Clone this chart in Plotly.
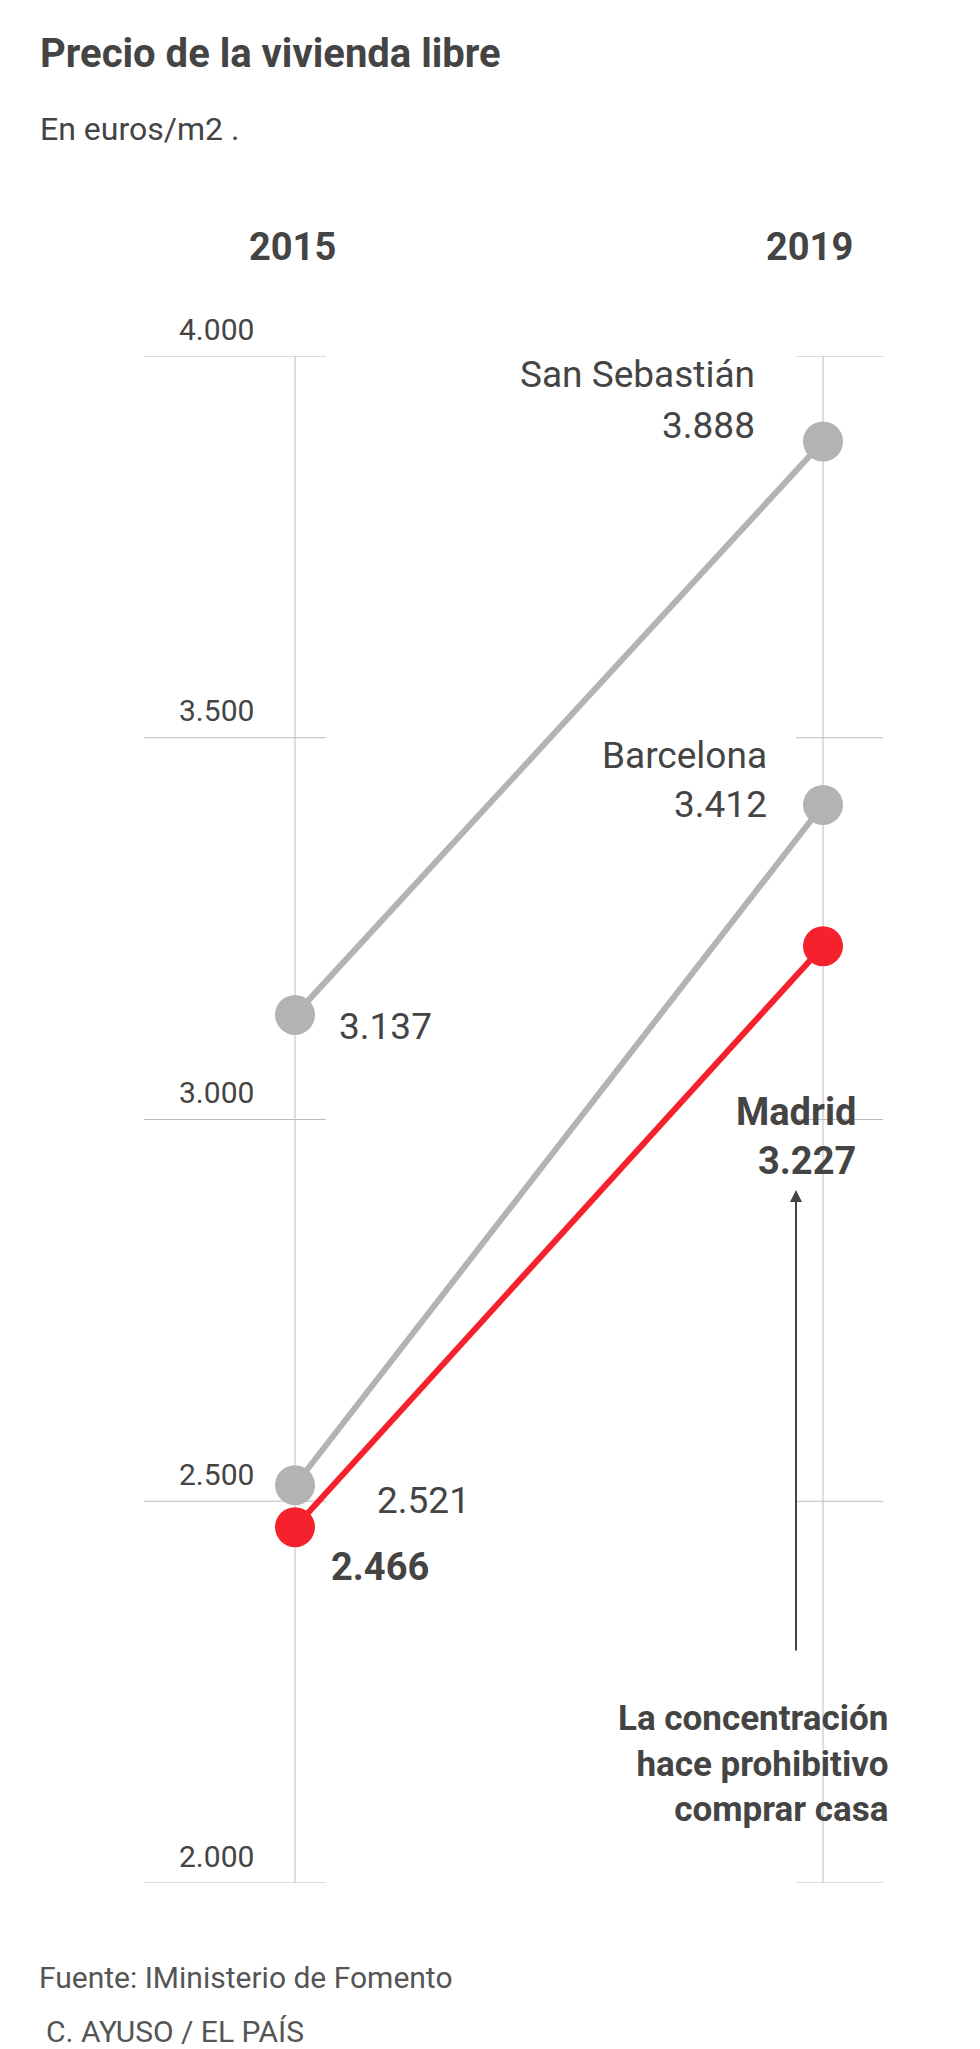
import plotly.graph_objects as go

years = ["2015", "2019"]
cities = ["San Sebastián", "Barcelona", "Madrid"]
val_2015 = [3137, 2521, 2466]
val_2019 = [3888, 3412, 3227]
y_ticks = [2000, 2500, 3000, 3500, 4000]
tick_labels = ["2.000", "2.500", "3.000", "3.500", "4.000"]

W, H = 980, 2049
X0, X1 = 287, 815          # pixel x of 2015 / 2019 axes
TOP, BOT = 348, 1875       # pixel y of 4000 / 2000
GREY, RED, TXT = "#b3b3b3", "#f5222d", "#444444"
FONT = "Roboto"


def px(x):
    return x / W


def py(y):
    return (BOT - y) / (BOT - TOP)


def fmt(v):
    return f"{v:,}".replace(",", ".")


span = X1 - X0
fig = go.Figure()

# axes lines and tick marks
for xv in (0, 1):
    fig.add_shape(type="line", x0=xv, x1=xv, y0=2000, y1=4000,
                  line=dict(color="#bdbdbd", width=1), layer="below")
for t in y_ticks:
    fig.add_shape(type="line", xref="paper", x0=px(136), x1=px(318), y0=t, y1=t,
                  line=dict(color="#bdbdbd", width=1), layer="below")
    fig.add_shape(type="line", xref="paper", x0=px(788), x1=px(875), y0=t, y1=t,
                  line=dict(color="#bdbdbd", width=1), layer="below")

for c, a, b in zip(cities, val_2015, val_2019):
    col = RED if c == "Madrid" else GREY
    fig.add_trace(go.Scatter(x=[0, 1], y=[a, b], mode="lines+markers",
                             line=dict(color=col, width=6),
                             marker=dict(color=col, size=40),
                             showlegend=False, hoverinfo="skip"))

ann = []


def text(t, x, y, size, bold=False, anchor="left", color=TXT):
    ann.append(dict(text=f"<b>{t}</b>" if bold else t, xref="paper", yref="paper",
                    x=px(x), y=py(y), xanchor=anchor, yanchor="middle",
                    showarrow=False, font=dict(family=FONT, size=size, color=color)))


text("Precio de la vivienda libre", 30, 46, 40, bold=True)
text("En euros/m2 .", 30, 121, 32)
text(years[0], 284, 239, 38, bold=True, anchor="center")
text(years[1], 801, 239, 38, bold=True, anchor="center")
for t, lab in zip(y_ticks, tick_labels):
    text(lab, 248, BOT - (t - 2000) / 2000 * (BOT - TOP) - 27, 30, anchor="right")

text(cities[0], 749, 367, 37, anchor="right")
text(fmt(val_2019[0]), 749, 417, 37, anchor="right")
text(fmt(val_2015[0]), 329, 1018, 37)
text(cities[1], 761, 747, 37, anchor="right")
text(fmt(val_2019[1]), 761, 796, 37, anchor="right")
text(fmt(val_2015[1]), 367, 1492, 37)
text(fmt(val_2015[2]), 321, 1559, 38, bold=True)
text(cities[2], 850, 1104, 38, bold=True, anchor="right")
text(fmt(val_2019[2]), 850, 1153, 38, bold=True, anchor="right")

ann.append(dict(text="<b>La concentración<br>hace prohibitivo<br>comprar casa</b>",
                xref="paper", yref="paper", x=px(882), y=py(1756), xanchor="right",
                yanchor="middle", align="right", showarrow=False,
                font=dict(family=FONT, size=35, color=TXT)))
ann.append(dict(xref="paper", yref="paper", x=px(788), y=py(1182),
                ax=0, ay=1644 - 1182, axref="pixel", ayref="pixel", text="",
                showarrow=True, arrowhead=2, arrowsize=1.2, arrowwidth=2,
                arrowcolor=TXT))

text("Fuente: IMinisterio de Fomento", 29, 1970, 30, color="#555555")
text("C. AYUSO / EL PAÍS", 36, 2023, 30, color="#555555")

fig.update_layout(
    width=W, height=H, margin=dict(l=0, r=0, t=TOP, b=H - BOT),
    paper_bgcolor="white", plot_bgcolor="white",
    xaxis=dict(range=[-X0 / span, (W - X0) / span], visible=False, fixedrange=True),
    yaxis=dict(range=[2000, 4000], visible=False, fixedrange=True),
    annotations=ann,
)

fig.write_html("out.html")
